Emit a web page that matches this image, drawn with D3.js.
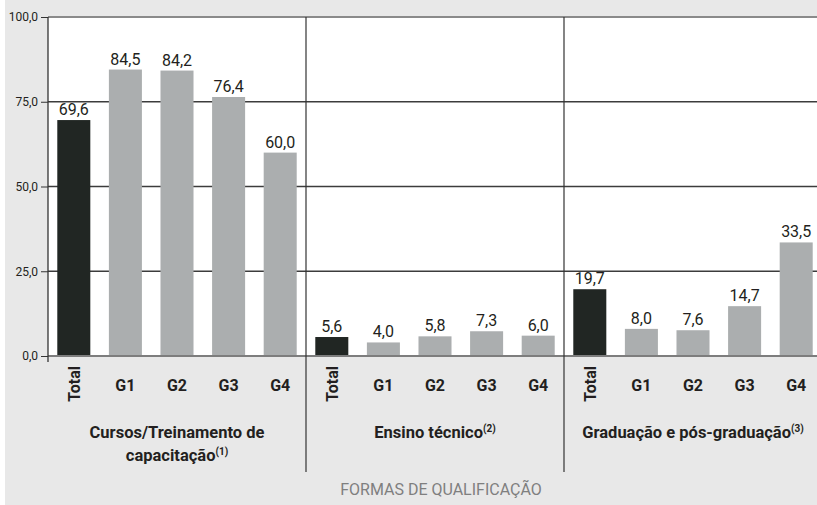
<!DOCTYPE html>
<html>
<meta charset="utf-8">
<style>
  body { margin: 0; background: #fff; }
  svg text { font-family: Roboto, "DejaVu Sans Condensed", sans-serif; fill: #231f20; }
</style>
<body>
<svg width="817" height="505"></svg>
<script src="https://cdn.jsdelivr.net/npm/d3@7"></script>
<script>
// dados
const groups = ["Cursos/Treinamento de", "Ensino técnico", "Graduação e pós-graduação"];
const groupLine2 = ["capacitação", "", ""];
const notes = ["(1)", "(2)", "(3)"];
const categories = ["Total", "G1", "G2", "G3", "G4"];
const cursos = [69.6, 84.5, 84.2, 76.4, 60.0];
const ensino = [5.6, 4.0, 5.8, 7.3, 6.0];
const graduacao = [19.7, 8.0, 7.6, 14.7, 33.5];
const yTicks = [0, 25, 50, 75, 100];
const axisTitle = "FORMAS DE QUALIFICAÇÃO";

const series = [cursos, ensino, graduacao];
const svg = d3.select("svg");
const W = 817, H = 505;
const plotLeft = 48, plotTop = 17, plotBottom = 356;

const fmt = d3.formatLocale({decimal: ",", thousands: ".", grouping: [3], currency: ["R$", ""]}).format(".1f");

// dados achatados: uma barra por (grupo, categoria)
const bars = [];
series.forEach((vals, gi) => {
  vals.forEach((v, ci) => bars.push({key: gi + "-" + ci, group: gi, cat: categories[ci], value: v}));
});

const x = d3.scaleBand()
    .domain(bars.map(d => d.key))
    .range([plotLeft, plotLeft + 3 * 258])
    .paddingInner(0.36)
    .paddingOuter(0.18);
const step = x.step();
const y = d3.scaleLinear().domain([0, 100]).range([plotBottom, plotTop]);
const mid = d => x(d.key) + x.bandwidth() / 2;

// fundo cinza + área branca
svg.append("rect").attr("x", 5).attr("y", 0).attr("width", W - 5).attr("height", H).attr("fill", "#e8e8e8");
svg.append("rect").attr("x", plotLeft).attr("y", y(100)).attr("width", W - plotLeft).attr("height", y(0) - y(100)).attr("fill", "#fff");

// linhas de grade
svg.append("g").selectAll("line").data(yTicks.filter(t => t > 0 && t < 100)).join("line")
    .attr("x1", plotLeft).attr("x2", W)
    .attr("y1", d => y(d)).attr("y2", d => y(d))
    .attr("stroke", "#3c3c3c").attr("stroke-width", 1.3);
svg.append("line").attr("x1", plotLeft).attr("x2", W).attr("y1", y(100)).attr("y2", y(100))
    .attr("stroke", "#8a8a8a").attr("stroke-width", 2);

// barras
svg.append("g").selectAll("rect").data(bars).join("rect")
    .attr("x", d => x(d.key))
    .attr("width", x.bandwidth())
    .attr("y", d => y(d.value))
    .attr("height", d => y(0) - y(d.value))
    .attr("fill", d => d.cat === "Total" ? "#212623" : "#abaeaf");

// linha do zero
svg.append("line").attr("x1", plotLeft).attr("x2", W).attr("y1", y(0)).attr("y2", y(0))
    .attr("stroke", "#7d7d7d").attr("stroke-width", 2);

// eixo y
const yAxis = d3.axisLeft(y).tickValues(yTicks).tickSize(7).tickPadding(3).tickFormat(fmt);
const yG = svg.append("g").attr("transform", `translate(${plotLeft},0)`).call(yAxis);
yG.select(".domain").remove();
yG.selectAll(".tick line").attr("stroke", "#333");
yG.selectAll(".tick text").attr("font-size", 12).attr("font-family", null).attr("fill", "#231f20");
svg.append("line").attr("x1", plotLeft).attr("x2", plotLeft).attr("y1", y(100)).attr("y2", y(0) + 6)
    .attr("stroke", "#333").attr("stroke-width", 1.3);

// divisórias entre grupos
svg.append("g").selectAll("line").data([1, 2]).join("line")
    .attr("x1", g => x(g + "-0") - step * 0.18)
    .attr("x2", g => x(g + "-0") - step * 0.18)
    .attr("y1", y(100)).attr("y2", 472)
    .attr("stroke", "#333").attr("stroke-width", 1.2);

// rótulos de valores
svg.append("g").selectAll("text").data(bars).join("text")
    .attr("x", mid)
    .attr("y", d => y(d.value) - 5)
    .attr("text-anchor", "middle")
    .attr("font-size", 16)
    .text(d => fmt(d.value));

// rótulos das categorias
const catG = svg.append("g").attr("font-weight", "bold").attr("font-size", 16);
catG.selectAll("text.g").data(bars.filter(d => d.cat !== "Total")).join("text")
    .attr("class", "g")
    .attr("x", mid)
    .attr("y", 391)
    .attr("text-anchor", "middle")
    .text(d => d.cat);
catG.selectAll("text.t").data(bars.filter(d => d.cat === "Total")).join("text")
    .attr("class", "t")
    .attr("transform", d => `translate(${mid(d) + 6},366) rotate(-90)`)
    .attr("text-anchor", "end")
    .text(d => d.cat);

// rótulos dos grupos
const grpG = svg.append("g").attr("font-weight", "bold").attr("font-size", 16.5);
groups.forEach((g, gi) => {
  const gx = x(gi + "-0") - step * 0.18 + step * 2.5;
  const oneLine = groupLine2[gi] === "";
  const t1 = grpG.append("text").attr("x", gx).attr("y", 438).attr("text-anchor", "middle").text(g);
  const tl = oneLine ? t1 : grpG.append("text").attr("x", gx).attr("y", 461).attr("text-anchor", "middle").text(groupLine2[gi]);
  tl.append("tspan").attr("font-size", 10).attr("dy", -6).text(notes[gi]);
});

// título do eixo
svg.append("text")
    .attr("x", 441).attr("y", 495)
    .attr("text-anchor", "middle")
    .attr("font-size", 16)
    .style("fill", "#7f7f7f")
    .text(axisTitle);
</script>
</body>
</html>
